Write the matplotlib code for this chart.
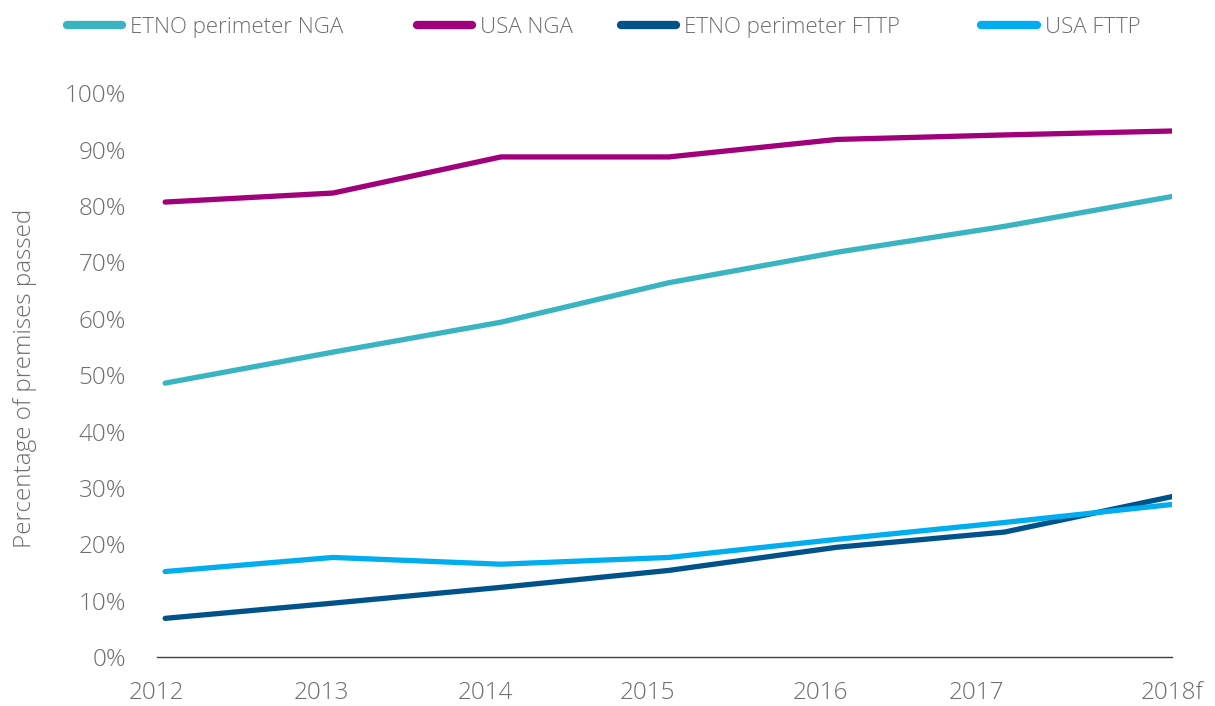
import numpy as np
import matplotlib.pyplot as plt
from matplotlib.lines import Line2D

plt.rcParams['font.family'] = ['Open Sans', 'DejaVu Sans']

years = [2012, 2013, 2014, 2015, 2016, 2017, 2018]
year_labels = ["2012", "2013", "2014", "2015", "2016", "2017", "2018f"]
# onde aparecen as etiquetas do eixo x no orixinal
label_pos = [2011.95, 2012.93, 2013.91, 2014.87, 2015.90, 2016.83, 2018.0]

etno_nga = [48.6, 54.1, 59.4, 66.4, 71.8, 76.4, 81.7]
usa_nga = [80.7, 82.3, 88.7, 88.7, 91.8, 92.6, 93.3]
etno_fttp = [6.9, 9.6, 12.4, 15.4, 19.5, 22.2, 28.5]
usa_fttp = [15.2, 17.7, 16.5, 17.7, 20.9, 23.9, 27.1]

series = [
    ("ETNO perimeter NGA", etno_nga, "#3ab4c1"),
    ("USA NGA", usa_nga, "#a0007a"),
    ("ETNO perimeter FTTP", etno_fttp, "#00538a"),
    ("USA FTTP", usa_fttp, "#00aeef"),
]
# posición x (fracción da figura) de cada entrada da lenda
legend_x = [0.042, 0.330, 0.498, 0.795]

grey = "#6d6e71"

fig = plt.figure(figsize=(12.15, 7.06), dpi=100)
ax = fig.add_axes([0.129, 0.069, 0.836, 0.799])

for name, vals, col in series:
    ax.plot(years, vals, color=col, lw=3.8, solid_capstyle="round",
            solid_joinstyle="round", label=name)

ax.set_xlim(2012, 2018)
ax.set_ylim(0, 100)
ax.set_yticks(np.arange(0, 101, 10))
ax.set_yticklabels([f"{v}%" for v in range(0, 101, 10)])
ax.set_xticks(label_pos)
ax.set_xticklabels(year_labels)

for s in ["top", "right", "left"]:
    ax.spines[s].set_visible(False)
ax.spines["bottom"].set_color("#404040")
ax.spines["bottom"].set_linewidth(1.0)
ax.tick_params(axis="both", length=0, labelsize=17.5, colors=grey)
ax.tick_params(axis="y", pad=22)
ax.tick_params(axis="x", pad=17)
for lbl in ax.get_xticklabels() + ax.get_yticklabels():
    lbl.set_fontweight("light")

ax.set_ylabel("Percentage of premises passed", fontsize=17.5, color=grey,
              fontweight="light")
ax.yaxis.set_label_coords(-0.118, 0.495)

# unha lenda por entrada para imitar o espazado do orixinal
for (name, vals, col), lx in zip(series, legend_x):
    h = Line2D([], [], color=col, lw=6, solid_capstyle="round")
    leg = fig.legend([h], [name], loc="upper left", bbox_to_anchor=(lx, 0.998),
                     frameon=False, fontsize=16, handlelength=2.5,
                     handletextpad=0.35, borderaxespad=0.3)
    for t in leg.get_texts():
        t.set_color(grey)
        t.set_fontweight("light")

fig.savefig("out.png", dpi=100)
